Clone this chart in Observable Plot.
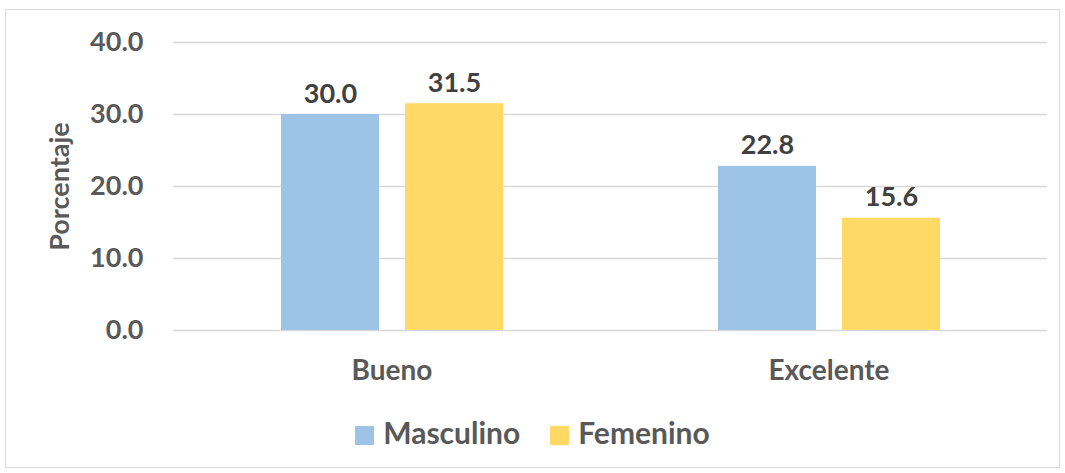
<!DOCTYPE html>
<html><head><meta charset="utf-8">
<script src="https://cdn.jsdelivr.net/npm/d3@7"></script>
<script src="https://cdn.jsdelivr.net/npm/@observablehq/plot@0.6"></script>
<style>
body{margin:0;background:#fff;font-family:Lato,"Open Sans",sans-serif;}
#wrap{position:relative;width:1065px;height:473px;}
#border{position:absolute;left:5px;top:9px;width:1053px;height:457px;border:1px solid #d9d9d9;}
#chart{position:absolute;left:0;top:0;}
#legend{position:absolute;top:414px;left:0;width:1065px;text-align:center;font-weight:bold;font-size:30px;color:#595959;}
#legend span.sw{display:inline-block;width:19px;height:19px;margin-right:9px;vertical-align:-1px;}
#legend span.item{margin:0 15px;}
</style></head>
<body><div id="wrap"><div id="border"></div><div id="chart"></div>
<div id="legend"></div></div>
<script>
const categories = ["Bueno", "Excelente"];
const series = ["Masculino", "Femenino"];
const masculino = [30.0, 22.8];
const femenino = [31.5, 15.6];
const yTicks = [0, 10, 20, 30, 40];
const colors = ["#9dc3e6", "#ffd966"];

const data = [];
categories.forEach((c, i) => {
  data.push({cat: c, serie: series[0], value: masculino[i]});
  data.push({cat: c, serie: series[1], value: femenino[i]});
});

const chart = Plot.plot({
  width: 1065,
  height: 400,
  marginLeft: 173,
  marginRight: 18,
  marginTop: 42,
  marginBottom: 70,
  style: {fontFamily: "Lato, 'Open Sans', sans-serif", background: "transparent"},
  fx: {domain: categories, padding: 0, axis: null},
  x: {domain: series, paddingInner: 0.21, paddingOuter: 0.867, axis: null},
  y: {domain: [0, 40]},
  color: {domain: series, range: colors},
  marks: [
    Plot.gridY(yTicks, {stroke: "#d9d9d9", strokeOpacity: 1, strokeWidth: 1.5}),
    Plot.axisY(yTicks, {tickFormat: d => d.toFixed(1), tickSize: 0, tickPadding: 30, fontSize: 27, fontWeight: "bold", fill: "#595959",
      label: "Porcentaje", labelAnchor: "center", labelArrow: "none", labelOffset: 124}),
    Plot.axisFx({anchor: "bottom", tickSize: 0, tickPadding: 30, fontSize: 28, fontWeight: "bold", fill: "#595959", label: null}),
    Plot.barY(data, {fx: "cat", x: "serie", y: "value", fill: "serie"}),
    Plot.text(data, {fx: "cat", x: "serie", y: "value", text: d => d.value.toFixed(1), lineAnchor: "bottom", dy: -12,
      fontSize: 27, fontWeight: "bold", fill: "#404040"})
  ]
});
document.getElementById("chart").appendChild(chart);

chart.querySelectorAll("text").forEach(t => {
  if (t.textContent === "Porcentaje") {
    t.style.fontSize = "27px"; t.style.fontWeight = "bold"; t.setAttribute("fill", "#595959");
  }
});

const leg = document.getElementById("legend");
series.forEach((s, i) => {
  const it = document.createElement("span");
  it.className = "item";
  it.innerHTML = `<span class="sw" style="background:${colors[i]}"></span>${s}`;
  leg.appendChild(it);
});
</script></body></html>
